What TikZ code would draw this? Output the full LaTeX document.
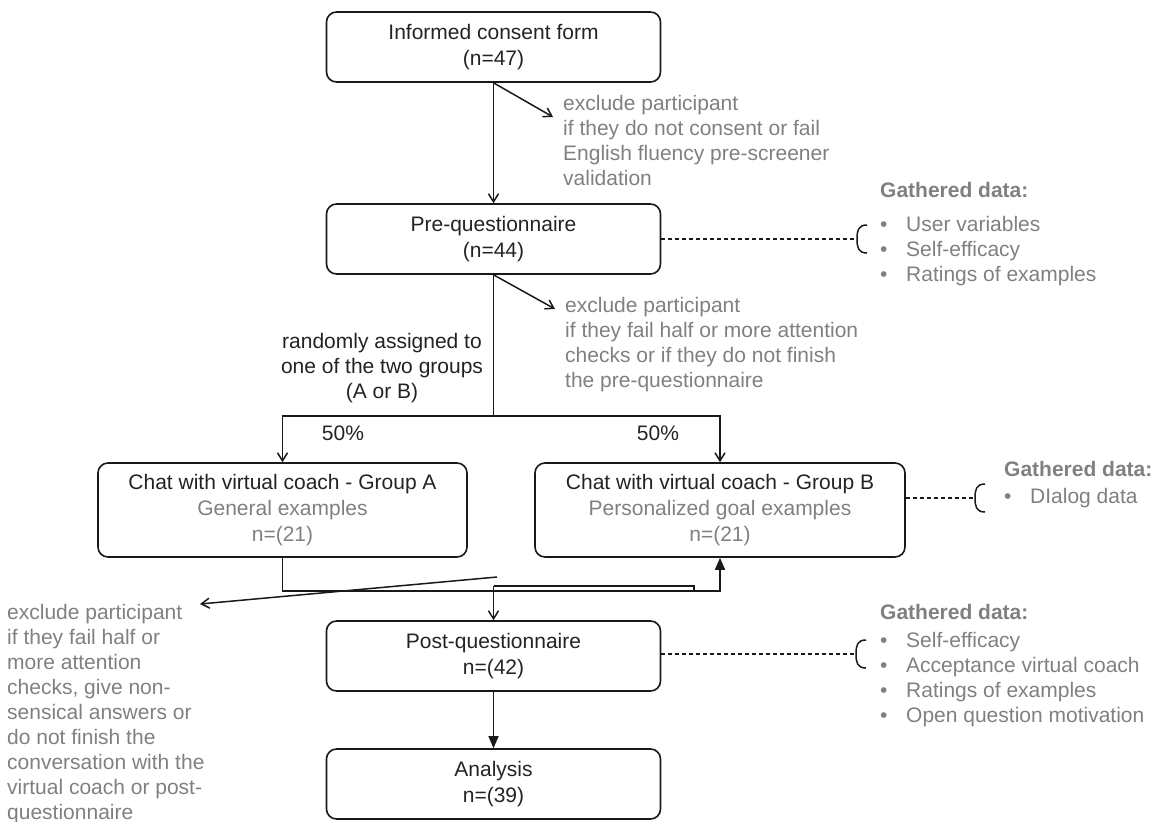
\documentclass[tikz,border=0pt]{standalone}
\usepackage{fontspec}
\setmainfont{Liberation Sans}
\usetikzlibrary{arrows.meta,calc}
\definecolor{txtgray}{RGB}{128,128,128}
\definecolor{linec}{RGB}{25,25,25}
\definecolor{boxtxt}{RGB}{35,35,35}
\tikzset{
  box/.style={draw=linec, line width=1.6pt, rounded corners=10pt, align=center, inner sep=0pt,
    font=\fontsize{21}{26}\selectfont, text=boxtxt},
  note/.style={anchor=north west, align=left, inner sep=0pt, font=\fontsize{21}{25}\selectfont, text=txtgray},
  plain/.style={align=center, inner sep=0pt, font=\fontsize{21}{25}\selectfont, text=boxtxt},
  conn/.style={draw=linec, line width=1.5pt},
  openarr/.style={conn, -{Straight Barb[length=8pt,width=10pt]}},
  fillarr/.style={conn, -{Triangle[length=12pt,width=10pt]}},
  dline/.style={draw=linec, line width=1.4pt, dash pattern=on 4pt off 3pt},
  brk/.pic={\draw[conn] (10,-14) .. controls (1,-14) and (0,-8) .. (0,0) .. controls (0,8) and (1,14) .. (10,14);}
}
\newcommand{\bul}{\makebox[26pt][l]{\textbullet}}
\begin{document}
\begin{tikzpicture}[x=1pt,y=-1pt]
\useasboundingbox (0,0) rectangle (1157,822);

% boxes
\node[box, minimum width=334pt, minimum height=70pt] (consent) at (493.5,47) {Informed consent form\\(n=47)};
\node[box, minimum width=334pt, minimum height=70pt] (preq) at (493.5,239) {Pre-questionnaire\\(n=44)};
\node[box, minimum width=369pt, minimum height=94pt] (boxA) at (282.5,510)
  {Chat with virtual coach - Group A\\\textcolor{txtgray}{General examples}\\\textcolor{txtgray}{n=(21)}};
\node[box, minimum width=370pt, minimum height=94pt] (boxB) at (720,510)
  {Chat with virtual coach - Group B\\\textcolor{txtgray}{Personalized goal examples}\\\textcolor{txtgray}{n=(21)}};
\node[box, minimum width=334pt, minimum height=70pt] (postq) at (493.5,656) {Post-questionnaire\\n=(42)};
\node[box, minimum width=334pt, minimum height=70pt] (analysis) at (493.5,784) {Analysis\\n=(39)};

% exclusion notes
\node[note] (ex1) at (563,95) {exclude participant\\if they do not consent or fail\\English fluency pre-screener\\validation};
\node[note] (ex2) at (565,297) {exclude participant\\if they fail half or more attention\\checks or if they do not finish\\the pre-questionnaire};
\node[note] (ex3) at (7,604) {exclude participant\\if they fail half or\\more attention\\checks, give non-\\sensical answers or\\do not finish the\\conversation with the\\virtual coach or post-\\questionnaire};

% labels
\node[plain, anchor=north] (rand) at (382,333) {randomly assigned to\\one of the two groups\\(A or B)};
\node[plain] (pA) at (343,433) {50\%};
\node[plain] (pB) at (658,433) {50\%};

% gathered data
\node[note] (g1) at (880,182) {\textbf{Gathered data:}\\[9pt]\bul User variables\\\bul Self-efficacy\\\bul Ratings of examples};
\node[note] (g2) at (1004,461) {\textbf{Gathered data:}\\[2pt]\bul DIalog data};
\node[note] (g3) at (880,604) {\textbf{Gathered data:}\\[3pt]\bul Self-efficacy\\\bul Acceptance virtual coach\\\bul Ratings of examples\\\bul Open question motivation};

% connectors
\coordinate (ex1tip) at (553,117);
\coordinate (ex2tip) at (555,309);
\coordinate (split) at (493.5,416);
\coordinate (join) at (283,591);
\coordinate (m1) at (493.5,586);
\coordinate (m2) at (694,586);
\coordinate (ex3start) at (497,577);
\coordinate (ex3tip) at (200,604);

\draw[openarr] (consent.south) -- (preq.north);
\draw[openarr] (consent.south) -- (ex1tip);
\draw[openarr] (preq.south) -- (ex2tip);
\draw[conn] (preq.south) -- (split);
\draw[openarr] (split) -| (boxA.north);
\draw[openarr] (split) -| (boxB.north);
\draw[fillarr] (boxA.south) -- (boxA.south |- join) -| (boxB.south);
\draw[conn, line width=1.1pt] (m1) -- (m2) -- (m2 |- join);
\draw[openarr] (m1) -- (postq.north);
\draw[openarr] (ex3start) -- (ex3tip);
\draw[fillarr] (postq.south) -- (analysis.north);

% dashed links with brackets
\coordinate (br1) at (857,239);
\coordinate (br2) at (975,498);
\coordinate (br3) at (856,654);
\draw[dline] (preq.east) -- (br1);
\draw[dline] (boxB.east |- br2) -- (br2);
\draw[dline] (postq.east |- br3) -- (br3);
\pic at (br1) {brk};
\pic at (br2) {brk};
\pic at (br3) {brk};
\end{tikzpicture}
\end{document}
